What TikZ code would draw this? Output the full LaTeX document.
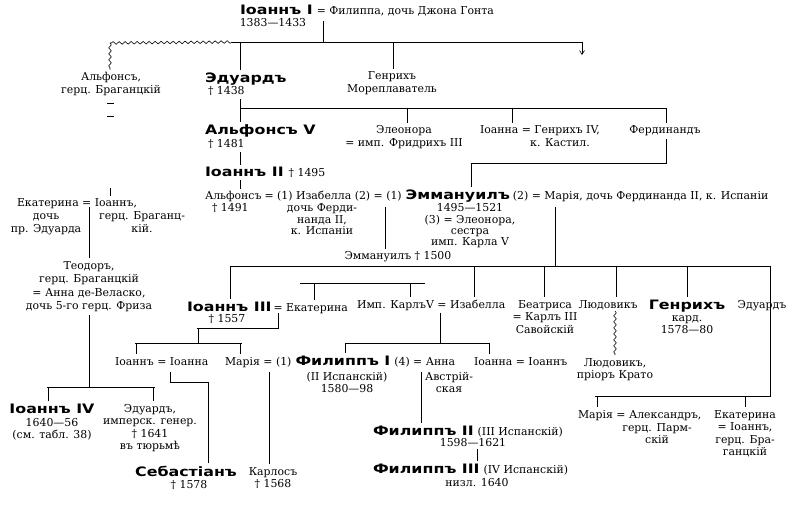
\documentclass[tikz,border=0pt]{standalone}
\usepackage{fontspec}
\setmainfont{DejaVu Serif}
\newfontfamily\namefont[FakeStretch=1.22]{DejaVu Sans}
\usetikzlibrary{positioning,arrows.meta,decorations.pathmorphing}

\begin{document}
\begin{tikzpicture}[x=1pt,y=-1pt,
    every node/.style={inner sep=0pt,outer xsep=0pt,outer ysep=3pt,align=center,
      font=\fontsize{10.9}{12.5}\selectfont},
    nm/.style={font=\namefont\bfseries\fontsize{13}{13}\selectfont},
    tight/.style={font=\fontsize{10.9}{11.2}\selectfont},
    loose/.style={font=\fontsize{10.9}{13.6}\selectfont},
    ln/.style={line width=0.6pt},
    wav/.style={ln,decorate,decoration={snake,amplitude=1.3pt,segment length=6pt}},
    arr/.style={ln,-{Straight Barb[length=4pt,width=5pt]}}]
  \useasboundingbox (0,0) rectangle (794,510);

  % Iоаннъ I and his children
  \node[nm,anchor=base west] (ioann1) at (240,15) {Іоаннъ I};
  \node[base right=4pt of ioann1] (filippa) {= Филиппа, дочь Джона Гонта};
  \node[anchor=base] (ioann1d) at (273,27) {1383—1433};
  \node[anchor=base] (alfbr) at (111,93.5) {Альфонсъ,\\герц. Браганцкій};
  \node[nm,anchor=base west] (eduard) at (205,83) {Эдуардъ};
  \node[anchor=base west] (eduardd) at (208,95) {† 1438};
  \node[anchor=base] (henry) at (392,92.5) {Генрихъ\\Мореплаватель};

  \node[nm,anchor=base west] (alf5) at (205,135) {Альфонсъ V};
  \node[anchor=base west] (alf5d) at (208,148) {† 1481};
  \node[anchor=base] (eleon) at (404,146.5) {Элеонора\\= имп. Фридрихъ III};
  \node[anchor=base west] (joanna) at (480,134) {Іоанна = Генрихъ IV,};
  \node[anchor=base] (henry4) at (560,147) {к. Кастил.};
  \node[anchor=base] (ferd) at (665,134) {Фердинандъ};

  \node[nm,anchor=base west] (ioann2) at (205,177) {Іоаннъ II};
  \node[base right=5pt of ioann2] (ioann2d) {† 1495};

  \node[anchor=base west] (alf6) at (205,200) {Альфонсъ};
  \node[base right=3pt of alf6] (isab) {= (1) Изабелла (2) = (1)};
  \node[nm,base right=4pt of isab] (emm) {Эммануилъ};
  \node[base right=3pt of emm] (maria) {(2) = Марія, дочь Фердинанда II, к. Испаніи};
  \node[anchor=base west] (alf6d) at (212,212) {† 1491};
  \node[tight,anchor=base] (isabt) at (322,234.4) {дочь Ферди-\\нанда II,\\к. Испаніи};
  \node[tight,anchor=base] (emmt) at (470,245.6) {1495—1521\\(3) = Элеонора,\\сестра\\имп. Карла V};
  \node[anchor=base] (emm2) at (398,260) {Эммануилъ † 1500};

  % Браганцкіе
  \node[anchor=base west] (ekat1) at (17,207) {Екатерина = Іоаннъ,};
  \node[anchor=base] (ekat1t) at (46,232.5) {дочь\\пр. Эдуарда};
  \node[anchor=base] (ioannbr) at (142,232.5) {герц. Браганц-\\кій.};
  \node[loose,anchor=base] (teodor) at (89,309.8) {Теодоръ,\\герц. Браганцкій\\= Анна де-Веласко,\\дочь 5-го герц. Фриза};

  % children of Эммануилъ
  \node[nm,anchor=base west] (ioann3) at (187,311) {Іоаннъ III};
  \node[base right=2pt of ioann3] (ekat2) {= Екатерина};
  \node[anchor=base] (ioann3d) at (227,322) {† 1557};
  \node[anchor=base west] (karl) at (357,308) {Имп. КарлъV = Изабелла};
  \node[anchor=base] (beatr) at (545,333) {Беатриса\\= Карлъ III\\Савойскій};
  \node[anchor=base] (lud) at (608,308) {Людовикъ};
  \node[nm,anchor=base] (henry2) at (687,309) {Генрихъ};
  \node[anchor=base] (henry2t) at (687,333.5) {кард.\\1578—80};
  \node[anchor=base] (eduard2) at (762,308) {Эдуардъ};

  \node[anchor=base west] (ioannj) at (115,365) {Іоаннъ = Іоанна};
  \node[anchor=base west] (maria2) at (225,365) {Марія = (1)};
  \node[nm,base right=4pt of maria2] (filipp1) {Филиппъ I};
  \node[base right=4pt of filipp1] (anna) {(4) = Анна};
  \node[anchor=base] (filipp1t) at (347,392.5) {(II Испанскій)\\1580—98};
  \node[anchor=base] (annat) at (449,392.5) {Австрій-\\ская};
  \node[anchor=base west] (joanna2) at (474,365) {Іоанна = Іоаннъ};
  \node[anchor=base] (lud2) at (615,378.5) {Людовикъ,\\пріоръ Крато};

  \node[nm,anchor=base] (ioann4) at (52,413) {Іоаннъ IV};
  \node[anchor=base] (ioann4t) at (52,438.5) {1640—56\\(см. табл. 38)};
  \node[anchor=base] (eduard3) at (150,449.5) {Эдуардъ,\\имперск. генер.\\† 1641\\въ тюрьмѣ};
  \node[anchor=base west] (maria3) at (578,418) {Марія = Александръ,};
  \node[anchor=base] (maria3t) at (657,443.5) {герц. Парм-\\скій};
  \node[anchor=base] (ekat3) at (745,455.5) {Екатерина\\= Іоаннъ,\\герц. Бра-\\ганцкій};
  \node[nm,anchor=base west] (filipp2) at (373,435) {Филиппъ II};
  \node[base right=4pt of filipp2] (filipp2t) {(III Испанскій)};
  \node[anchor=base] (filipp2d) at (473,446) {1598—1621};

  \node[nm,anchor=base] (sebast) at (186,476) {Себастіанъ};
  \node[anchor=base] (sebastd) at (189,488) {† 1578};
  \node[anchor=base] (carlos) at (273,487.5) {Карлосъ\\† 1568};
  \node[nm,anchor=base west] (filipp3) at (373,473) {Филиппъ III};
  \node[base right=4pt of filipp3] (filipp3t) {(IV Испанскій)};
  \node[anchor=base] (filipp3d) at (477,486) {низл. 1640};

  % lines of descent
  \coordinate (m1) at (323,21);
  \coordinate (b1w) at (110,43); \coordinate (b1l) at (232,42);
  \coordinate (b1r) at (582,42); \coordinate (b1a) at (582,55);
  \coordinate (c1) at (240,42); \coordinate (c2) at (393,42);
  \draw[ln] (m1) -- (m1 |- b1l);
  \draw[ln] (b1l) -- (b1r);
  \draw[wav] (b1l) -- (b1w);
  \draw[wav] (b1w) -- (b1w |- alfbr.north);
  \draw[arr] (b1r) -- (b1a);
  \draw[ln] (c1) -- (c1 |- eduard.north);
  \draw[ln] (c2) -- (c2 |- henry.north);

  \coordinate (d1) at (107,103); \coordinate (d2) at (107,116);
  \coordinate (d3) at (110,188);
  \draw[ln] (d1) -- ++(7,0);
  \draw[ln] (d2) -- ++(7,0);
  \draw[ln] (d3) -- (d3 |- ekat1.north);

  \coordinate (b2l) at (240,108); \coordinate (b2r) at (666,108);
  \coordinate (c3) at (407,108); \coordinate (c4) at (512,108);
  \draw[ln] (c1 |- eduardd.south) -- (c1 |- alf5.north);
  \draw[ln] (b2l) -- (b2r);
  \draw[ln] (c3) -- (c3 |- eleon.north);
  \draw[ln] (c4) -- (c4 |- joanna.north);
  \draw[ln] (b2r) -- (b2r |- ferd.north);

  \coordinate (b3l) at (471,163); \coordinate (b3r) at (666,163);
  \draw[ln] (b3r |- ferd.south) -- (b3r) -- (b3l) -- (b3l |- emm.north);
  \draw[ln] (c1 |- alf5d.south) -- (c1 |- ioann2.north);
  \draw[ln] (c1 |- ioann2.south) -- (c1 |- alf6.north);

  \coordinate (m2) at (385,207); \coordinate (m3) at (555,207);
  \coordinate (b4l) at (230,266); \coordinate (b4r) at (770,266);
  \draw[ln] (m2) -- (m2 |- emm2.north);
  \draw[ln] (m3) -- (m3 |- b4l);
  \draw[ln] (b4l) -- (b4r);
  \coordinate (c5) at (474,266); \coordinate (c6) at (544,266);
  \coordinate (c7) at (616,266); \coordinate (c8) at (687,266);
  \draw[ln] (b4l) -- (b4l |- ioann3.north);
  \draw[ln] (c5) -- (c5 |- karl.north);
  \draw[ln] (c6) -- (c6 |- beatr.north);
  \draw[ln] (c7) -- (c7 |- lud.north);
  \draw[ln] (c8) -- (c8 |- henry2.north);

  \coordinate (b5l) at (300,283); \coordinate (b5r) at (425,283);
  \coordinate (c9) at (314,283); \coordinate (c10) at (410,283);
  \draw[ln] (b5l) -- (b5r);
  \draw[ln] (c9) -- (c9 |- ekat2.north);
  \draw[ln] (c10) -- (c10 |- karl.north);

  \coordinate (m4) at (89,207);
  \coordinate (b7l) at (47,387); \coordinate (b7r) at (155,387);
  \coordinate (c11) at (48,387); \coordinate (c12) at (153,387);
  \draw[ln] (m4) -- (m4 |- teodor.north);
  \draw[ln] (m4 |- teodor.south) -- (m4 |- b7l);
  \draw[ln] (b7l) -- (b7r);
  \draw[ln] (c11) -- (c11 |- ioann4.north);
  \draw[ln] (c12) -- (c12 |- eduard3.north);

  \coordinate (m5) at (278,313);
  \coordinate (b8l) at (197,328); \coordinate (b8r) at (278,328);
  \coordinate (c13) at (198,328);
  \coordinate (b9l) at (135,343); \coordinate (b9r) at (242,343);
  \coordinate (c14) at (136,343); \coordinate (c15) at (240,343);
  \draw[ln] (m5) -- (b8r) -- (b8l);
  \draw[ln] (c13) -- (c13 |- b9l);
  \draw[ln] (b9l) -- (b9r);
  \draw[ln] (c14) -- (c14 |- ioannj.north);
  \draw[ln] (c15) -- (c15 |- maria2.north);

  \coordinate (m6) at (170,372); \coordinate (m6b) at (208,382);
  \coordinate (m7) at (269,372);
  \draw[ln] (m6) -- (m6 |- m6b) -- (m6b) -- (m6b |- sebast.north);
  \draw[ln] (m7) -- (m7 |- carlos.north);

  \coordinate (m8) at (440,313);
  \coordinate (b10l) at (345,343); \coordinate (b10r) at (489,343);
  \draw[ln] (m8) -- (m8 |- b10l);
  \draw[ln] (b10l) -- (b10r);
  \draw[ln] (b10l) -- (b10l |- filipp1.north);
  \draw[ln] (b10r) -- (b10r |- joanna2.north);

  \coordinate (m9) at (421,372); \coordinate (c16) at (477,449);
  \draw[ln] (m9) -- (m9 |- filipp2.north);
  \draw[ln] (c16) -- (c16 |- filipp3.north);

  \coordinate (c17) at (615,311);
  \draw[wav] (c17) -- (c17 |- lud2.north);

  \coordinate (b11l) at (595,396); \coordinate (b11r) at (770,396);
  \coordinate (c18) at (597,396); \coordinate (c19) at (745,396);
  \draw[ln] (b4r) -- (b11r) -- (b11l);
  \draw[ln] (c18) -- (c18 |- maria3.north);
  \draw[ln] (c19) -- (c19 |- ekat3.north);
\end{tikzpicture}
\end{document}
